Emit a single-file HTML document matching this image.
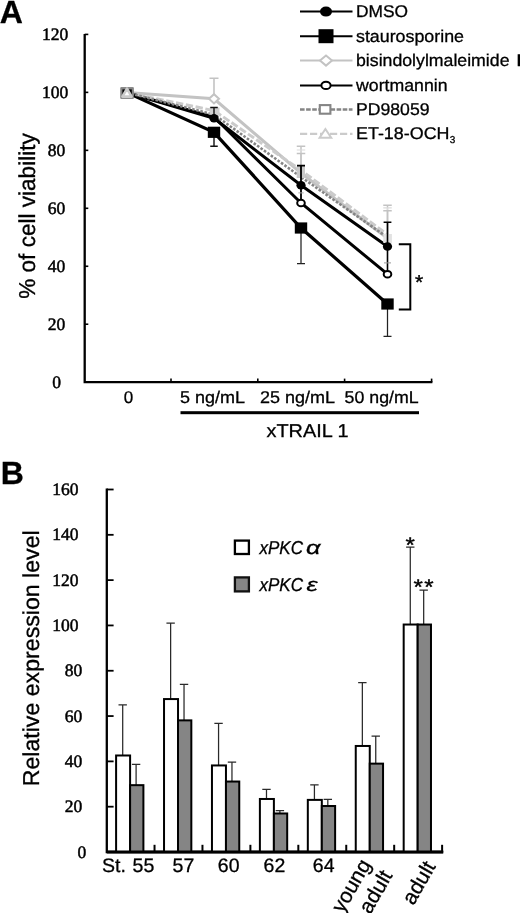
<!DOCTYPE html>
<html lang="en"><head><meta charset="utf-8"><title>Figure</title>
<style>
html,body{margin:0;padding:0;background:#fff;}
body{width:520px;height:913px;overflow:hidden;}
svg{display:block;}
text{stroke:#000;stroke-width:0.3px;}
</style></head><body>
<svg width="520" height="913" viewBox="0 0 520 913" text-rendering="geometricPrecision">
<rect width="520" height="913" fill="#fff"/>
<text x="-0.3" y="23.4" font-family='"Liberation Sans", Arial, Helvetica, sans-serif' font-size="32" text-anchor="start" font-weight="bold" font-style="normal" fill="#000" >A</text>
<path d="M84.7 34 V382.2 H432.4" fill="none" stroke="#000" stroke-width="2.3" stroke-linejoin="miter"/>
<text x="56.6" y="387.8" font-family='"Liberation Serif", "Times New Roman", serif' font-size="17.5" text-anchor="middle" font-weight="normal" font-style="normal" fill="#000" style="stroke-width:0.5px">0</text>
<path d="M84.7 324.23 h3.6" stroke="#000" stroke-width="1.6"/>
<text x="56.6" y="329.83000000000004" font-family='"Liberation Serif", "Times New Roman", serif' font-size="17.5" text-anchor="middle" font-weight="normal" font-style="normal" fill="#000" style="stroke-width:0.5px">20</text>
<path d="M84.7 266.27 h3.6" stroke="#000" stroke-width="1.6"/>
<text x="56.6" y="271.87" font-family='"Liberation Serif", "Times New Roman", serif' font-size="17.5" text-anchor="middle" font-weight="normal" font-style="normal" fill="#000" style="stroke-width:0.5px">40</text>
<path d="M84.7 208.3 h3.6" stroke="#000" stroke-width="1.6"/>
<text x="56.6" y="213.9" font-family='"Liberation Serif", "Times New Roman", serif' font-size="17.5" text-anchor="middle" font-weight="normal" font-style="normal" fill="#000" style="stroke-width:0.5px">60</text>
<path d="M84.7 150.34 h3.6" stroke="#000" stroke-width="1.6"/>
<text x="56.6" y="155.94" font-family='"Liberation Serif", "Times New Roman", serif' font-size="17.5" text-anchor="middle" font-weight="normal" font-style="normal" fill="#000" style="stroke-width:0.5px">80</text>
<path d="M84.7 92.37 h3.6" stroke="#000" stroke-width="1.6"/>
<text x="55.2" y="97.97" font-family='"Liberation Serif", "Times New Roman", serif' font-size="17.5" text-anchor="middle" font-weight="normal" font-style="normal" fill="#000" style="stroke-width:0.5px">100</text>
<path d="M84.7 34.4 h3.6" stroke="#000" stroke-width="1.6"/>
<text x="55.2" y="40.0" font-family='"Liberation Serif", "Times New Roman", serif' font-size="17.5" text-anchor="middle" font-weight="normal" font-style="normal" fill="#000" style="stroke-width:0.5px">120</text>
<path d="M171 382.2 v-3.6" stroke="#000" stroke-width="1.6"/>
<path d="M257.8 382.2 v-3.6" stroke="#000" stroke-width="1.6"/>
<path d="M344.6 382.2 v-3.6" stroke="#000" stroke-width="1.6"/>
<path d="M431.6 382.2 v-3.6" stroke="#000" stroke-width="1.6"/>
<text transform="translate(35 216) rotate(-90)" font-family='"Liberation Sans", Arial, Helvetica, sans-serif' font-size="23" text-anchor="middle" textLength="165.5" lengthAdjust="spacingAndGlyphs">% of cell viability</text>
<text x="123.8" y="403.4" font-family='"Liberation Sans", Arial, Helvetica, sans-serif' font-size="17" text-anchor="start" font-weight="normal" font-style="normal" fill="#000" >0</text>
<text x="180" y="403.4" font-family='"Liberation Sans", Arial, Helvetica, sans-serif' font-size="17" text-anchor="start" font-weight="normal" font-style="normal" fill="#000" textLength="65" lengthAdjust="spacingAndGlyphs" >5 ng/mL</text>
<text x="260" y="403.4" font-family='"Liberation Sans", Arial, Helvetica, sans-serif' font-size="17" text-anchor="start" font-weight="normal" font-style="normal" fill="#000" textLength="75" lengthAdjust="spacingAndGlyphs" >25 ng/mL</text>
<text x="344.6" y="403.4" font-family='"Liberation Sans", Arial, Helvetica, sans-serif' font-size="17" text-anchor="start" font-weight="normal" font-style="normal" fill="#000" textLength="74" lengthAdjust="spacingAndGlyphs" >50 ng/mL</text>
<rect x="180.5" y="411.2" width="238.5" height="3" fill="#000"/>
<text x="266.5" y="436.6" font-family='"Liberation Sans", Arial, Helvetica, sans-serif' font-size="18.5" text-anchor="start" font-weight="normal" font-style="normal" fill="#000" textLength="82" lengthAdjust="spacingAndGlyphs" >xTRAIL 1</text>
<path d="M214 98.8 V78.3 M209.5 78.3 h9" stroke="#c3c3c3" stroke-width="1.6" fill="none"/>
<path d="M301 173.2 V146.3 M296.75 146.3 h8.5" stroke="#c3c3c3" stroke-width="1.5" fill="none"/>
<path d="M301 173.2 V150 M296.75 150 h8.5" stroke="#dcdcdc" stroke-width="1.2" fill="none"/>
<path d="M301 173.2 V153.6 M296.75 153.6 h8.5" stroke="#c3c3c3" stroke-width="1.5" fill="none"/>
<path d="M387.5 238.3 V205.3 M383.25 205.3 h8.5" stroke="#c3c3c3" stroke-width="1.5" fill="none"/>
<path d="M387.5 238.3 V207.9 M383.25 207.9 h8.5" stroke="#dcdcdc" stroke-width="1.2" fill="none"/>
<path d="M387.5 238.3 V210.7 M383.25 210.7 h8.5" stroke="#c3c3c3" stroke-width="1.5" fill="none"/>
<polyline points="127,92.6 214,118.2 301,185.3 387.5,246.5" fill="none" stroke="#000" stroke-width="3"/>
<polyline points="127,92.6 214,132.3 301,228.0 387.5,304.0" fill="none" stroke="#000" stroke-width="3.2"/>
<polyline points="127,92.6 214,98.8 301,173.2 387.5,238.3" fill="none" stroke="#c3c3c3" stroke-width="3"/>
<polyline points="127,92.6 214,117.0 301,203.0 387.5,274.2" fill="none" stroke="#000" stroke-width="3"/>
<polyline points="127,92.6 214,110.6 301,170.2 387.5,234.6" fill="none" stroke="#cbcbcb" stroke-width="2.9" stroke-dasharray="7.4 2.6"/>
<polyline points="127,92.6 214,114.6 301,177.0 387.5,237.4" fill="none" stroke="#858585" stroke-width="2.6" stroke-dasharray="2.6 1.6"/>
<path d="M209 98.8 L214 94.2 L219 98.8 L214 103.39999999999999Z" fill="#fff" stroke="#c3c3c3" stroke-width="2"/>
<rect x="209.5" y="107.5" width="10" height="7" fill="#cfcfcf"/>
<rect x="296.7" y="166" width="8.3" height="12" fill="#c9c9c9"/>
<rect x="383.3" y="234" width="8.6" height="9" fill="#e2e2e2"/>
<path d="M214 118.2 V107.5 M210.25 107.5 h7.5" stroke="#111" stroke-width="1.4" fill="none"/>
<path d="M214 132.3 V146.2 M210.25 146.2 h7.5" stroke="#111" stroke-width="1.4" fill="none"/>
<path d="M301 203.0 V165.6 M297.0 165.6 h8" stroke="#000" stroke-width="1.8" fill="none"/>
<path d="M298.3 192.9 h5.4" stroke="#aaa" stroke-width="1"/>
<path d="M301 228.0 V263.5 M297.0 263.5 h8" stroke="#222" stroke-width="1.25" fill="none"/>
<path d="M387.5 274.2 V222.2 M383.6 222.2 h7.8" stroke="#000" stroke-width="1.6" fill="none"/>
<path d="M384 262.9 h7" stroke="#999" stroke-width="1"/>
<path d="M387.5 304.0 V336.3 M383.5 336.3 h8" stroke="#222" stroke-width="1.25" fill="none"/>
<ellipse cx="214" cy="118.2" rx="4.6" ry="4.3" fill="#000"/>
<rect x="207.8" y="126.70000000000002" width="12.4" height="11.2" fill="#000"/>
<ellipse cx="301" cy="203.0" rx="3.8" ry="3.3" fill="#fff" stroke="#000" stroke-width="2"/>
<ellipse cx="301" cy="185.3" rx="4.6" ry="4.3" fill="#000"/>
<rect x="294.8" y="222.4" width="12.4" height="11.2" fill="#000"/>
<ellipse cx="387.5" cy="274.2" rx="3.8" ry="3.3" fill="#fff" stroke="#000" stroke-width="2"/>
<ellipse cx="387.5" cy="246.5" rx="4.6" ry="4.3" fill="#000"/>
<rect x="381.3" y="298.4" width="12.4" height="11.2" fill="#000"/>
<rect x="120.8" y="87.6" width="12.4" height="10.8" fill="#000"/>
<rect x="121.4" y="88.39999999999999" width="11.4" height="9.2" fill="none" stroke="#858585" stroke-width="2"/>
<path d="M122.4 96.6 L127 88.6 L131.6 96.6Z" fill="#fff" stroke="#cbcbcb" stroke-width="2.6" stroke-linejoin="round"/>
<path d="M398.8 244.2 H410.3 V309.6 H398.8" fill="none" stroke="#000" stroke-width="2"/>
<text transform="translate(414.9 288.8) scale(1 0.95)" font-family='"Liberation Sans", Arial, Helvetica, sans-serif' font-size="21" style="stroke-width:0.45px">*</text>
<path d="M300 11.6 H352.5" stroke="#000" stroke-width="2"/>
<ellipse cx="326" cy="11.6" rx="6" ry="5" fill="#000"/>
<path d="M300 36.2 H352.5" stroke="#000" stroke-width="2"/>
<rect x="318.5" y="29.200000000000003" width="15" height="14" fill="#000"/>
<path d="M300 60.6 H352.5" stroke="#c3c3c3" stroke-width="2"/>
<path d="M320 60.6 L326 55.6 L332 60.6 L326 65.6Z" fill="#fff" stroke="#c3c3c3" stroke-width="2"/>
<path d="M300 85.4 H352.5" stroke="#000" stroke-width="2"/>
<ellipse cx="326" cy="85.4" rx="4.6" ry="3.7" fill="#fff" stroke="#000" stroke-width="2"/>
<path d="M300 109.5 H352.5" stroke="#858585" stroke-width="2.3" stroke-dasharray="4.6 1.5"/>
<rect x="319.8" y="105.1" width="10.6" height="8.6" fill="#fff" stroke="#858585" stroke-width="2.1"/>
<path d="M300 133.8 H352.5" stroke="#cbcbcb" stroke-width="2.3" stroke-dasharray="7.2 2.8"/>
<path d="M319.6 137.8 L325.4 129.0 L331.2 137.8Z" fill="#fff" stroke="#cbcbcb" stroke-width="2"/>
<text x="356" y="17.2" font-family='"Liberation Sans", Arial, Helvetica, sans-serif' font-size="17" text-anchor="start" font-weight="normal" font-style="normal" fill="#000" textLength="52" lengthAdjust="spacingAndGlyphs" >DMSO</text>
<text x="356" y="41.800000000000004" font-family='"Liberation Sans", Arial, Helvetica, sans-serif' font-size="17" text-anchor="start" font-weight="normal" font-style="normal" fill="#000" textLength="108" lengthAdjust="spacingAndGlyphs" >staurosporine</text>
<text x="356" y="66.2" font-family='"Liberation Sans", Arial, Helvetica, sans-serif' font-size="17" text-anchor="start" font-weight="normal" font-style="normal" fill="#000" textLength="153.5" lengthAdjust="spacingAndGlyphs" >bisindolylmaleimide</text>
<text x="356" y="91.0" font-family='"Liberation Sans", Arial, Helvetica, sans-serif' font-size="17" text-anchor="start" font-weight="normal" font-style="normal" fill="#000" textLength="91.5" lengthAdjust="spacingAndGlyphs" >wortmannin</text>
<text x="356" y="115.1" font-family='"Liberation Sans", Arial, Helvetica, sans-serif' font-size="17" text-anchor="start" font-weight="normal" font-style="normal" fill="#000" textLength="73.5" lengthAdjust="spacingAndGlyphs" >PD98059</text>
<text x="356" y="139.4" font-family='"Liberation Sans", Arial, Helvetica, sans-serif' font-size="17" text-anchor="start" font-weight="normal" font-style="normal" fill="#000" textLength="93.5" lengthAdjust="spacingAndGlyphs" >ET-18-OCH</text>
<text x="516.8" y="66.2" font-family='"Liberation Sans", Arial, Helvetica, sans-serif' font-size="17" text-anchor="start" font-weight="bold" font-style="normal" fill="#000" >I</text>
<text x="449.8" y="143.3" font-family='"Liberation Sans", Arial, Helvetica, sans-serif' font-size="10" text-anchor="start" font-weight="normal" font-style="normal" fill="#000" >3</text>
<text x="0.8" y="484" font-family='"Liberation Sans", Arial, Helvetica, sans-serif' font-size="32" text-anchor="start" font-weight="bold" font-style="normal" fill="#000" >B</text>
<path d="M106.8 488.5 V852 H443.2" fill="none" stroke="#000" stroke-width="2.3"/>
<text x="81.9" y="857.6" font-family='"Liberation Serif", "Times New Roman", serif' font-size="17.5" text-anchor="middle" font-weight="normal" font-style="normal" fill="#000" style="stroke-width:0.5px">0</text>
<path d="M106.8 806.69 h6.8" stroke="#000" stroke-width="1.8"/>
<text x="73.5" y="812.2900000000001" font-family='"Liberation Serif", "Times New Roman", serif' font-size="17.5" text-anchor="middle" font-weight="normal" font-style="normal" fill="#000" style="stroke-width:0.5px">20</text>
<path d="M106.8 761.38 h6.8" stroke="#000" stroke-width="1.8"/>
<text x="73.5" y="766.98" font-family='"Liberation Serif", "Times New Roman", serif' font-size="17.5" text-anchor="middle" font-weight="normal" font-style="normal" fill="#000" style="stroke-width:0.5px">40</text>
<path d="M106.8 716.06 h6.8" stroke="#000" stroke-width="1.8"/>
<text x="73.5" y="721.66" font-family='"Liberation Serif", "Times New Roman", serif' font-size="17.5" text-anchor="middle" font-weight="normal" font-style="normal" fill="#000" style="stroke-width:0.5px">60</text>
<path d="M106.8 670.75 h6.8" stroke="#000" stroke-width="1.8"/>
<text x="73.5" y="676.35" font-family='"Liberation Serif", "Times New Roman", serif' font-size="17.5" text-anchor="middle" font-weight="normal" font-style="normal" fill="#000" style="stroke-width:0.5px">80</text>
<path d="M106.8 625.44 h6.8" stroke="#000" stroke-width="1.8"/>
<text x="65.4" y="631.0400000000001" font-family='"Liberation Serif", "Times New Roman", serif' font-size="17.5" text-anchor="middle" font-weight="normal" font-style="normal" fill="#000" style="stroke-width:0.5px">100</text>
<path d="M106.8 580.13 h6.8" stroke="#000" stroke-width="1.8"/>
<text x="65.4" y="585.73" font-family='"Liberation Serif", "Times New Roman", serif' font-size="17.5" text-anchor="middle" font-weight="normal" font-style="normal" fill="#000" style="stroke-width:0.5px">120</text>
<path d="M106.8 534.82 h6.8" stroke="#000" stroke-width="1.8"/>
<text x="65.4" y="540.4200000000001" font-family='"Liberation Serif", "Times New Roman", serif' font-size="17.5" text-anchor="middle" font-weight="normal" font-style="normal" fill="#000" style="stroke-width:0.5px">140</text>
<path d="M106.8 489.5 h6.8" stroke="#000" stroke-width="1.8"/>
<text x="65.4" y="495.1" font-family='"Liberation Serif", "Times New Roman", serif' font-size="17.5" text-anchor="middle" font-weight="normal" font-style="normal" fill="#000" style="stroke-width:0.5px">160</text>
<path d="M154.53 852 v-7.2" stroke="#000" stroke-width="2"/>
<path d="M202.46 852 v-7.2" stroke="#000" stroke-width="2"/>
<path d="M250.39 852 v-7.2" stroke="#000" stroke-width="2"/>
<path d="M298.32 852 v-7.2" stroke="#000" stroke-width="2"/>
<path d="M346.25 852 v-7.2" stroke="#000" stroke-width="2"/>
<path d="M394.18 852 v-7.2" stroke="#000" stroke-width="2"/>
<path d="M442.11 852 v-7.2" stroke="#000" stroke-width="2"/>
<text transform="translate(38.6 658.3) rotate(-90)" font-family='"Liberation Sans", Arial, Helvetica, sans-serif' font-size="23" text-anchor="middle" textLength="256" lengthAdjust="spacingAndGlyphs">Relative expression level</text>
<path d="M122.69999999999999 755.49 V704.96 M118.49999999999999 704.96 h8.4" stroke="#2a2a2a" stroke-width="1.25" fill="none"/>
<path d="M136.1 785.16 V764.32 M131.9 764.32 h8.4" stroke="#2a2a2a" stroke-width="1.25" fill="none"/>
<rect x="116.1" y="755.49" width="14.0" height="96.51" fill="#fff" stroke="#000" stroke-width="2"/>
<rect x="130.1" y="785.16" width="13.300000000000011" height="66.84" fill="#858585" stroke="#000" stroke-width="2"/>
<path d="M170.63 699.07 V623.17 M166.43 623.17 h8.4" stroke="#2a2a2a" stroke-width="1.25" fill="none"/>
<path d="M184.03 720.37 V684.35 M179.83 684.35 h8.4" stroke="#2a2a2a" stroke-width="1.25" fill="none"/>
<rect x="164.03" y="699.07" width="14.0" height="152.93" fill="#fff" stroke="#000" stroke-width="2"/>
<rect x="178.03" y="720.37" width="13.300000000000011" height="131.63" fill="#858585" stroke="#000" stroke-width="2"/>
<path d="M218.56 765.45 V723.31 M214.36 723.31 h8.4" stroke="#2a2a2a" stroke-width="1.25" fill="none"/>
<path d="M231.96 781.54 V762.06 M227.76000000000002 762.06 h8.4" stroke="#2a2a2a" stroke-width="1.25" fill="none"/>
<rect x="211.96" y="765.45" width="14.0" height="86.55" fill="#fff" stroke="#000" stroke-width="2"/>
<rect x="225.96" y="781.54" width="13.300000000000011" height="70.46" fill="#858585" stroke="#000" stroke-width="2"/>
<path d="M266.49 798.98 V789.47 M262.29 789.47 h8.4" stroke="#2a2a2a" stroke-width="1.25" fill="none"/>
<path d="M279.89 813.48 V810.54 M275.69 810.54 h8.4" stroke="#2a2a2a" stroke-width="1.25" fill="none"/>
<rect x="259.89" y="798.98" width="14.0" height="53.02" fill="#fff" stroke="#000" stroke-width="2"/>
<rect x="273.89" y="813.48" width="13.300000000000011" height="38.52" fill="#858585" stroke="#000" stroke-width="2"/>
<path d="M314.42 799.89 V784.94 M310.22 784.94 h8.4" stroke="#2a2a2a" stroke-width="1.25" fill="none"/>
<path d="M327.82 806.01 V799.44 M323.62 799.44 h8.4" stroke="#2a2a2a" stroke-width="1.25" fill="none"/>
<rect x="307.82" y="799.89" width="14.0" height="52.11" fill="#fff" stroke="#000" stroke-width="2"/>
<rect x="321.82" y="806.01" width="13.300000000000011" height="45.99" fill="#858585" stroke="#000" stroke-width="2"/>
<path d="M362.35 745.97 V682.53 M358.15000000000003 682.53 h8.4" stroke="#2a2a2a" stroke-width="1.25" fill="none"/>
<path d="M375.75 763.64 V736.0 M371.55 736.0 h8.4" stroke="#2a2a2a" stroke-width="1.25" fill="none"/>
<rect x="355.75" y="745.97" width="14.0" height="106.03" fill="#fff" stroke="#000" stroke-width="2"/>
<rect x="369.75" y="763.64" width="13.300000000000011" height="88.36" fill="#858585" stroke="#000" stroke-width="2"/>
<path d="M410.28000000000003 624.53 V547.05 M406.08000000000004 547.05 h8.4" stroke="#2a2a2a" stroke-width="1.25" fill="none"/>
<path d="M423.68 624.53 V590.1 M419.48 590.1 h8.4" stroke="#2a2a2a" stroke-width="1.25" fill="none"/>
<rect x="403.68" y="624.53" width="14.0" height="227.47" fill="#fff" stroke="#000" stroke-width="2"/>
<rect x="417.68" y="624.53" width="13.300000000000011" height="227.47" fill="#858585" stroke="#000" stroke-width="2"/>
<path d="M106.8 852 H443.2" fill="none" stroke="#000" stroke-width="2.8"/>
<text x="102" y="872" font-family='"Liberation Sans", Arial, Helvetica, sans-serif' font-size="19.5" text-anchor="start" font-weight="normal" font-style="normal" fill="#000" >St.</text>
<text x="132.6" y="872" font-family='"Liberation Sans", Arial, Helvetica, sans-serif' font-size="19.5" text-anchor="start" font-weight="normal" font-style="normal" fill="#000" >55</text>
<text x="172.6" y="872" font-family='"Liberation Sans", Arial, Helvetica, sans-serif' font-size="19.5" text-anchor="start" font-weight="normal" font-style="normal" fill="#000" >57</text>
<text x="217.8" y="872" font-family='"Liberation Sans", Arial, Helvetica, sans-serif' font-size="19.5" text-anchor="start" font-weight="normal" font-style="normal" fill="#000" >60</text>
<text x="263.6" y="872" font-family='"Liberation Sans", Arial, Helvetica, sans-serif' font-size="19.5" text-anchor="start" font-weight="normal" font-style="normal" fill="#000" >62</text>
<text x="312.8" y="872" font-family='"Liberation Sans", Arial, Helvetica, sans-serif' font-size="19.5" text-anchor="start" font-weight="normal" font-style="normal" fill="#000" >64</text>
<text transform="translate(371.5 864.5) rotate(-60)" font-family='"Liberation Sans", Arial, Helvetica, sans-serif' font-size="21" text-anchor="end">young</text>
<text transform="translate(393 875.5) rotate(-60)" font-family='"Liberation Sans", Arial, Helvetica, sans-serif' font-size="21" text-anchor="end">adult</text>
<text transform="translate(436.2 866.5) rotate(-60)" font-family='"Liberation Sans", Arial, Helvetica, sans-serif' font-size="21" text-anchor="end">adult</text>
<rect x="234.9" y="540.6" width="14" height="13.4" fill="#fff" stroke="#000" stroke-width="2.3"/>
<rect x="234.9" y="577.4" width="14" height="14" fill="#858585" stroke="#111" stroke-width="2.3"/>
<text x="259.5" y="554" font-family='"Liberation Sans", Arial, Helvetica, sans-serif' font-size="18.6" text-anchor="start" font-weight="normal" font-style="italic" fill="#000" textLength="43.5" lengthAdjust="spacingAndGlyphs" >xPKC</text>
<text x="306" y="554" font-family='"Liberation Sans", Arial, Helvetica, sans-serif' font-size="19" text-anchor="start" font-weight="normal" font-style="italic" fill="#000" textLength="14.5" lengthAdjust="spacingAndGlyphs" >α</text>
<text x="259.5" y="591.4" font-family='"Liberation Sans", Arial, Helvetica, sans-serif' font-size="18.6" text-anchor="start" font-weight="normal" font-style="italic" fill="#000" textLength="43.5" lengthAdjust="spacingAndGlyphs" >xPKC</text>
<text x="306.6" y="591.4" font-family='"Liberation Sans", Arial, Helvetica, sans-serif' font-size="19" text-anchor="start" font-weight="normal" font-style="italic" fill="#000" textLength="11" lengthAdjust="spacingAndGlyphs" >ε</text>
<text transform="translate(405.5 551.5) scale(1 0.88)" font-family='"Liberation Sans", Arial, Helvetica, sans-serif' font-size="24" style="stroke-width:0.45px">*</text>
<text transform="translate(413.4 594.3) scale(1 0.88)" font-family='"Liberation Sans", Arial, Helvetica, sans-serif' font-size="24" style="stroke-width:0.45px">*</text>
<text transform="translate(424.3 594.3) scale(1 0.88)" font-family='"Liberation Sans", Arial, Helvetica, sans-serif' font-size="24" style="stroke-width:0.45px">*</text>
</svg>
</body></html>
